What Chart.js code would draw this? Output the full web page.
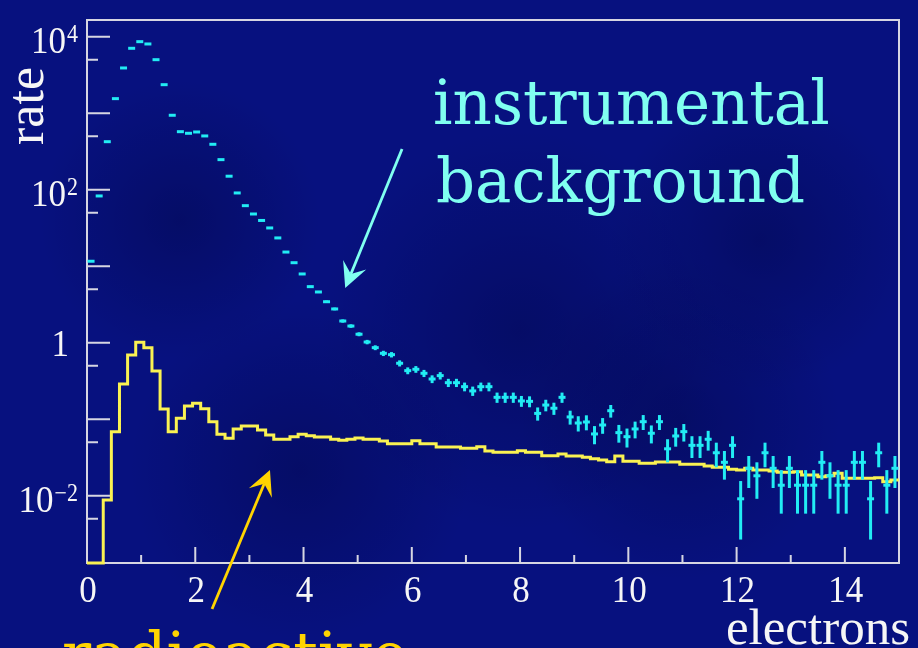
<!DOCTYPE html>
<html>
<head>
  <meta charset="utf-8" />
  <title>rate vs electrons</title>
  <script src="https://cdn.jsdelivr.net/npm/chart.js"></script>
  <style>
    html, body { margin: 0; padding: 0; background: #07117f; }
    canvas { display: block; }
  </style>
</head>
<body>
  <canvas id="rateChart" width="918" height="648"></canvas>

  <script>
    // 100 bins of 0.15 electrons each, from 0 to 15
    const binWidth = 0.15;

    // instrumental background (cyan points with errors)
    const instrRate = [
      11.6, 82.8, 424, 1549, 3899, 7050, 8605, 8030, 5003, 2358,
      939, 573, 546, 568, 504, 392, 247, 150, 90.6, 61.8,
      48.1, 39.6, 31.6, 23.4, 15.3, 11.1, 7.91, 5.40, 4.60, 3.43,
      2.76, 1.92, 1.65, 1.29, 1.02, 0.861, 0.726, 0.697, 0.538, 0.431,
      0.449, 0.398, 0.335, 0.371, 0.300, 0.300, 0.266, 0.234, 0.266, 0.266,
      0.193, 0.193, 0.193, 0.173, 0.171, 0.119, 0.153, 0.139, 0.193, 0.107,
      0.0891, 0.0919, 0.0641, 0.0839, 0.129, 0.0667, 0.059, 0.0745, 0.0927, 0.0655,
      0.0927, 0.041, 0.0603, 0.0687, 0.0455, 0.0455, 0.0546, 0.0364, 0.0273, 0.0455,
      0.0091, 0.0228, 0.0182, 0.0364, 0.0228, 0.0137, 0.0228, 0.0137, 0.0137, 0.0137,
      0.0273, 0.0182, 0.0137, 0.0137, 0.0273, 0.0273, 0.0091, 0.0364, 0.0137, 0.0228
    ];
    const instrErr = [
      0, 0, 0, 0, 0, 0, 0, 0, 0, 0,
      0, 0, 0, 0, 0, 0, 0, 0, 0, 0,
      0.468, 0.424, 0.379, 0.326, 0.264, 0.225, 0.19, 0.157, 0.145, 0.125,
      0.112, 0.0935, 0.0866, 0.0766, 0.0681, 0.0626, 0.0575, 0.0563, 0.0495, 0.0443,
      0.0452, 0.0426, 0.039, 0.0411, 0.0369, 0.0369, 0.0348, 0.0326, 0.0348, 0.0348,
      0.0296, 0.0296, 0.0296, 0.0281, 0.0279, 0.0233, 0.0264, 0.0252, 0.0296, 0.0221,
      0.0201, 0.0204, 0.0171, 0.0195, 0.0242, 0.0174, 0.0164, 0.0184, 0.0205, 0.0173,
      0.0205, 0.0137, 0.0166, 0.0177, 0.0144, 0.0144, 0.0158, 0.0129, 0.0111, 0.0144,
      0.00643, 0.0102, 0.0091, 0.0129, 0.0102, 0.00788, 0.0102, 0.00788, 0.00788, 0.00788,
      0.0111, 0.0091, 0.00788, 0.00788, 0.0111, 0.0111, 0.00643, 0.0129, 0.00788, 0.0102
    ];

    // radioactive (yellow step histogram)
    const radioRate = [
      0, 0, 0.0088, 0.0687, 0.288, 0.69, 1.01, 0.861, 0.427, 0.136,
      0.0687, 0.103, 0.149, 0.161, 0.137, 0.0927, 0.0635, 0.0562, 0.0745, 0.0815,
      0.0815, 0.0723, 0.0621, 0.0546, 0.0546, 0.059, 0.0635, 0.0608, 0.0585, 0.0585,
      0.0546, 0.053, 0.0546, 0.0568, 0.0546, 0.0546, 0.0519, 0.0479, 0.0479, 0.0479,
      0.0524, 0.0479, 0.0479, 0.0434, 0.0434, 0.0434, 0.0417, 0.0417, 0.0437, 0.0384,
      0.0369, 0.0369, 0.0369, 0.0388, 0.0369, 0.0369, 0.0333, 0.0333, 0.0351, 0.033,
      0.033, 0.0318, 0.0305, 0.0293, 0.0278, 0.033, 0.0282, 0.0282, 0.0265, 0.0265,
      0.0276, 0.0276, 0.0276, 0.0257, 0.0257, 0.0257, 0.0244, 0.0235, 0.0235, 0.0221,
      0.0217, 0.0228, 0.0217, 0.0217, 0.021, 0.0202, 0.0202, 0.0206, 0.0187, 0.0187,
      0.0177, 0.0182, 0.0196, 0.0169, 0.0169, 0.0169, 0.0169, 0.0172, 0.0152, 0.016
    ];

    // axis ranges and ticks
    const xMin = 0, xMax = 15;
    const yMin = 0.001318, yMax = 16520;
    const xTicksMajor = [0, 2, 4, 6, 8, 10, 12, 14];
    const xTicksMinor = [1, 3, 5, 7, 9, 11, 13];
    const yTicksMajor = [1e-2, 1e-1, 1, 10, 100, 1e3, 1e4];
    const yTicksMinor = [5e-3, 5e-2, 0.5, 5, 50, 500, 5000];
    const yLabelValues = [1e-2, 1, 1e2, 1e4];
    const yLabelBase = ['10', '1', '10', '10'];
    const yLabelExp = ['\u22122', '', '2', '4'];

    const cyan = '#22ecf4';
    const yellow = '#faf252';
    const frameColor = '#d6d6e2';
    const labelColor = '#f6f6f6';
    const serif = '"Liberation Serif", "Times New Roman", serif';
    const bookish = '"DejaVu Serif", serif';
    const tall = 1.1; // the slide stretched the plot text a little vertically

    // broad, faint darker areas of the slide background: [x, y, radius]
    const bgShade = [
      [520, 330, 200], [680, 420, 160], [300, 470, 170], [760, 240, 150], [180, 220, 140]
    ];

    // points for the chart
    const instrPoints = instrRate.map((v, i) => ({ x: (i + 0.5) * binWidth, y: v }));
    // empty bins sit on the bottom of the frame, like ROOT draws them
    const radioPoints = radioRate.map((v, i) => ({ x: i * binWidth, y: v > 0 ? v : yMin }));
    radioPoints.push({ x: radioRate.length * binWidth, y: radioRate[radioRate.length - 1] });

    const bgPlugin = {
      id: 'bg',
      beforeDraw(chart) {
        const { ctx, width, height } = chart;
        ctx.save();
        ctx.fillStyle = '#07117f';
        ctx.fillRect(0, 0, width, height);
        bgShade.forEach(([cx, cy, r]) => {
          const g = ctx.createRadialGradient(cx, cy, 0, cx, cy, r);
          g.addColorStop(0, 'rgba(0,0,40,0.28)');
          g.addColorStop(1, 'rgba(0,0,40,0)');
          ctx.fillStyle = g;
          ctx.fillRect(cx - r, cy - r, 2 * r, 2 * r);
        });
        ctx.restore();
      }
    };

    function tallText(ctx, text, x, y) {
      ctx.save();
      ctx.translate(x, y);
      ctx.scale(1, tall);
      ctx.fillText(text, 0, 0);
      ctx.restore();
    }

    // frame, inward ticks and labels in ROOT style
    const framePlugin = {
      id: 'frame',
      beforeDatasetsDraw(chart) {
        const { ctx, chartArea: a, scales: { x, y } } = chart;
        ctx.save();
        ctx.strokeStyle = frameColor;
        ctx.lineWidth = 2;
        ctx.strokeRect(a.left, a.top, a.right - a.left, a.bottom - a.top);
        ctx.beginPath();
        xTicksMajor.forEach(v => {
          const px = x.getPixelForValue(v);
          ctx.moveTo(px, a.bottom); ctx.lineTo(px, a.bottom - 16);
        });
        xTicksMinor.forEach(v => {
          const px = x.getPixelForValue(v);
          ctx.moveTo(px, a.bottom); ctx.lineTo(px, a.bottom - 8);
        });
        yTicksMajor.forEach(v => {
          const py = y.getPixelForValue(v);
          ctx.moveTo(a.left, py); ctx.lineTo(a.left + 23, py);
        });
        yTicksMinor.forEach(v => {
          const py = y.getPixelForValue(v);
          ctx.moveTo(a.left, py); ctx.lineTo(a.left + 11, py);
        });
        ctx.stroke();

        ctx.fillStyle = labelColor;
        ctx.textBaseline = 'alphabetic';
        ctx.font = '35px ' + serif;
        ctx.textAlign = 'center';
        xTicksMajor.forEach(v => {
          tallText(ctx, String(v), x.getPixelForValue(v) + 1, a.bottom + 39);
        });

        ctx.textAlign = 'right';
        yLabelValues.forEach((v, i) => {
          const py = y.getPixelForValue(v);
          if (yLabelExp[i]) {
            let right = a.left - 9;
            ctx.font = '22px ' + serif;
            tallText(ctx, yLabelExp[i], right, py + 5);
            right -= ctx.measureText(yLabelExp[i]).width + 1;
            ctx.font = '35px ' + serif;
            tallText(ctx, yLabelBase[i], right, py + 16);
          } else {
            ctx.font = '35px ' + serif;
            tallText(ctx, yLabelBase[i], a.left - 18, py + 13);
          }
        });

        // axis titles
        ctx.font = '51px ' + serif;
        ctx.textAlign = 'right';
        ctx.fillText('electrons', 910, 644);
        ctx.save();
        ctx.translate(43, 106);
        ctx.rotate(-Math.PI / 2);
        ctx.font = '52px ' + serif;
        ctx.textAlign = 'center';
        ctx.fillText('rate', 0, 0);
        ctx.restore();
        ctx.restore();
      }
    };

    const errorBarPlugin = {
      id: 'errorBars',
      afterDatasetsDraw(chart) {
        const { ctx, chartArea: a, scales: { x, y } } = chart;
        ctx.save();
        ctx.beginPath();
        ctx.rect(a.left, a.top, a.right - a.left, a.bottom - a.top);
        ctx.clip();
        ctx.strokeStyle = cyan;
        ctx.lineWidth = 3;
        instrRate.forEach((v, i) => {
          const e = instrErr[i];
          if (!e) return;
          const px = x.getPixelForValue((i + 0.5) * binWidth);
          const lo = v - e > 0 ? v - e : yMin;
          ctx.beginPath();
          ctx.moveTo(px, y.getPixelForValue(v + e));
          ctx.lineTo(px, y.getPixelForValue(lo));
          ctx.stroke();
        });
        ctx.restore();
      }
    };

    function drawArrow(ctx, x1, y1, x2, y2, color) {
      const len = Math.hypot(x2 - x1, y2 - y1);
      const ux = (x2 - x1) / len, uy = (y2 - y1) / len;
      const nx = -uy, ny = ux;
      const back = 25, half = 12.5, notch = 15;
      ctx.strokeStyle = color;
      ctx.fillStyle = color;
      ctx.lineWidth = 2.8;
      ctx.beginPath();
      ctx.moveTo(x1, y1);
      ctx.lineTo(x2 - ux * notch, y2 - uy * notch);
      ctx.stroke();
      ctx.beginPath();
      ctx.moveTo(x2, y2);
      ctx.lineTo(x2 - ux * back + nx * half, y2 - uy * back + ny * half);
      ctx.lineTo(x2 - ux * notch, y2 - uy * notch);
      ctx.lineTo(x2 - ux * back - nx * half, y2 - uy * back - ny * half);
      ctx.closePath();
      ctx.fill();
    }

    // labels with arrows pointing at the curves (data coordinates)
    const notePlugin = {
      id: 'notes',
      afterDraw(chart) {
        const { ctx, scales: { x, y } } = chart;
        ctx.save();
        ctx.font = '61px ' + bookish;
        ctx.textAlign = 'left';
        ctx.textBaseline = 'alphabetic';
        ctx.fillStyle = '#80fff0';
        ctx.fillText('instrumental', 433, 124);
        ctx.fillText('background', 436, 202);
        drawArrow(ctx, x.getPixelForValue(5.82), y.getPixelForValue(340),
          x.getPixelForValue(4.77), y.getPixelForValue(5.19), '#80fff0');

        ctx.fillStyle = '#ffd400';
        ctx.fillText('radioactive', 62, 676);
        drawArrow(ctx, x.getPixelForValue(2.31), y.getPixelForValue(0.00033),
          x.getPixelForValue(3.38), y.getPixelForValue(0.0217), '#ffd400');
        ctx.restore();
      }
    };

    const ctx = document.getElementById('rateChart').getContext('2d');
    const rateChart = new Chart(ctx, {
      type: 'line',
      data: {
        datasets: [
          {
            type: 'scatter',
            label: 'instrumental background',
            data: instrPoints,
            pointStyle: 'line',
            pointRadius: 3.5,
            pointHoverRadius: 3.5,
            pointBorderWidth: 3,
            borderColor: cyan,
            backgroundColor: cyan,
            clip: 6
          },
          {
            type: 'line',
            label: 'radioactive',
            data: radioPoints,
            stepped: true,
            borderColor: yellow,
            borderWidth: 3,
            pointRadius: 0,
            fill: false,
            clip: { left: 2, right: 2, top: 0, bottom: 3 }
          }
        ]
      },
      options: {
        responsive: false,
        animation: false,
        events: [],
        layout: { padding: { left: 87, right: 19, top: 20, bottom: 85 } },
        plugins: {
          legend: { display: false },
          tooltip: { enabled: false }
        },
        scales: {
          x: { type: 'linear', min: xMin, max: xMax, display: false },
          y: { type: 'logarithmic', min: yMin, max: yMax, display: false }
        }
      },
      plugins: [bgPlugin, framePlugin, errorBarPlugin, notePlugin]
    });
  </script>
</body>
</html>
